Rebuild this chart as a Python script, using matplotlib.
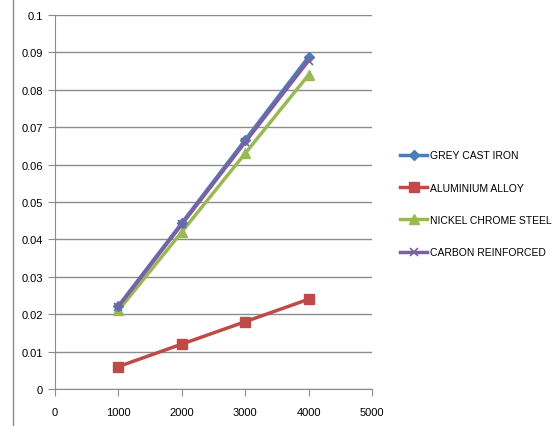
import matplotlib
matplotlib.use("Agg")
import matplotlib.pyplot as plt
from matplotlib.lines import Line2D

plt.rcParams['font.family'] = ['Liberation Sans', 'DejaVu Sans']

x = [1000, 2000, 3000, 4000]
grey_cast_iron = [0.0222, 0.0444, 0.0666, 0.0888]
aluminium_alloy = [0.006, 0.012, 0.018, 0.024]
nickel_chrome_steel = [0.021, 0.042, 0.063, 0.084]
carbon_reinforced = [0.022, 0.044, 0.066, 0.0878]
labels = ["GREY CAST IRON", "ALUMINIUM ALLOY", "NICKEL CHROME STEEL", "CARBON REINFORCED"]

fig = plt.figure(figsize=(5.6, 4.27), dpi=100)
ax = fig.add_axes([55/560, 1-390/427, (372-55)/560, (390-16)/427])

ax.plot(x, grey_cast_iron, color='#4A7EBB', lw=2.5, marker='D', ms=5, label=labels[0], zorder=4)
ax.plot(x, aluminium_alloy, color='#BE4B48', lw=2.5, marker='s', ms=7, label=labels[1], zorder=3)
ax.plot(x, nickel_chrome_steel, color='#98B954', lw=2.5, marker='^', ms=7, label=labels[2], zorder=3)
ax.plot(x, carbon_reinforced, color='#7D60A0', lw=2.5, marker='x', ms=6, mew=1.2, label=labels[3], zorder=5)

ax.set_xlim(0, 5000)
ax.set_ylim(0, 0.1)
ax.set_xticks([0, 1000, 2000, 3000, 4000, 5000])
ax.set_yticks([i/100 for i in range(11)])
ax.set_yticklabels(['0'] + ['%g' % (i/100) for i in range(1, 11)])
ax.yaxis.grid(True, color='#8c8c8c', lw=1)
ax.set_axisbelow(True)
for s in ['top', 'right']:
    ax.spines[s].set_visible(False)
for s in ['left', 'bottom']:
    ax.spines[s].set_color('#8c8c8c')
ax.tick_params(axis='both', colors='#8c8c8c', labelcolor='black', labelsize=8, length=5, direction='out')
ax.tick_params(axis='x', pad=8)

leg = ax.legend(loc='center left', bbox_to_anchor=(1.06, 0.495), frameon=False, fontsize=7.5,
                handlelength=2.6, labelspacing=2.15, handletextpad=0.2)

fig.add_artist(Line2D([13/560, 13/560], [0, 1], transform=fig.transFigure, color='#8c8c8c', lw=1))

fig.savefig('out.png', dpi=100)
